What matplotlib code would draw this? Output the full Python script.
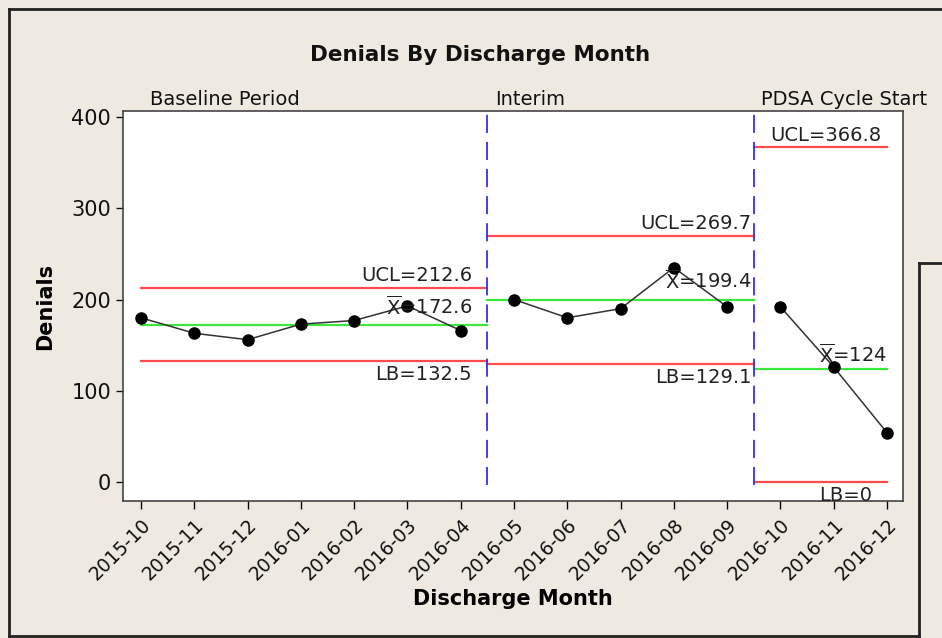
import matplotlib
matplotlib.use("Agg")
import matplotlib.pyplot as plt
from matplotlib import font_manager
from matplotlib.lines import Line2D

names = {f.name for f in font_manager.fontManager.ttflist}
fam = ['Liberation Sans Narrow', 'DejaVu Sans'] if 'Liberation Sans Narrow' in names else ['DejaVu Sans']
plt.rcParams['font.family'] = fam

months = ["2015-10", "2015-11", "2015-12", "2016-01", "2016-02", "2016-03", "2016-04",
          "2016-05", "2016-06", "2016-07", "2016-08", "2016-09",
          "2016-10", "2016-11", "2016-12"]
denials = [180, 163, 156, 173, 177, 193, 166,
           200, 180, 190, 235, 192,
           192, 126, 54]
stage_names = ["Baseline Period", "Interim", "PDSA Cycle Start"]
stage_start = [0, 7, 12]
stage_end = [6, 11, 14]
ucl = [212.6, 269.7, 366.8]
mean = [172.6, 199.4, 124]
lb = [132.5, 129.1, 0]

W, H = 942, 638
fig = plt.figure(figsize=(W / 100, H / 100), dpi=100)
fig.patch.set_facecolor('#EEEAE2')

def fx(px): return px / W
def fy(py): return 1 - py / H

ax = fig.add_axes([fx(123), fy(501), fx(903) - fx(123), fy(111) - fy(501)])
ax.set_facecolor('white')

x = list(range(len(months)))
ax.set_xlim(-0.338, 14.30)
ax.set_ylim(-20.8, 406.6)

red = '#FF4B4B'
green = '#3CE83C'
blue = '#3030F5'

for i in range(3):
    s, e = stage_start[i], stage_end[i]
    lo = s - 0.5 if i > 0 else s
    hi = e + 0.5 if i < 2 else e
    ax.plot([lo, hi], [ucl[i], ucl[i]], color=red, lw=1.6, zorder=2)
    ax.plot([lo, hi], [mean[i], mean[i]], color=green, lw=1.6, zorder=2)
    ax.plot([lo, hi], [lb[i], lb[i]], color=red, lw=1.6, zorder=2)
    ax.plot(x[s:e + 1], denials[s:e + 1], color='#333333', lw=1.1, marker='o',
            markersize=8, markerfacecolor='black', markeredgecolor='black', zorder=4)
    ax.text(s + 0.17 if i == 0 else s - 0.36, 1.006, stage_names[i], transform=ax.get_xaxis_transform(),
            ha='left', va='bottom', fontsize=14, color='#111111')

for b in [6.5, 11.5]:
    ax.axvline(b, ymin=0.04, ymax=1, color=blue, lw=1.3, dashes=(10, 5), zorder=3)

fs = 14
tc = '#222222'
# baseline labels
ax.text(6.21, ucl[0] + 3, "UCL=212.6", ha='right', va='bottom', fontsize=fs, color=tc, zorder=5)
ax.text(6.21, mean[0] + 6, r"$\overline{\mathrm{X}}$=172.6", ha='right', va='bottom', fontsize=fs, color=tc, zorder=5)
ax.text(6.21, lb[0] - 4, "LB=132.5", ha='right', va='top', fontsize=fs, color=tc, zorder=5)
# interim
ax.text(11.45, ucl[1] + 3, "UCL=269.7", ha='right', va='bottom', fontsize=fs, color=tc, zorder=5)
ax.text(11.45, mean[1] + 8, r"$\overline{\mathrm{X}}$=199.4", ha='right', va='bottom', fontsize=fs, color=tc, zorder=5)
ax.text(11.45, lb[1] - 4, "LB=129.1", ha='right', va='top', fontsize=fs, color=tc, zorder=5)
# PDSA
ax.text(11.8, ucl[2] + 3, "UCL=366.8", ha='left', va='bottom', fontsize=fs, color=tc, zorder=5)
ax.text(14.0, mean[2] + 3, r"$\overline{\mathrm{X}}$=124", ha='right', va='bottom', fontsize=fs, color=tc, zorder=5)
ax.text(13.72, lb[2] - 4, "LB=0", ha='right', va='top', fontsize=fs, color=tc, zorder=5)

ax.set_xticks(x)
ax.set_xticklabels(months, rotation=45, ha='right', rotation_mode='anchor', fontsize=13.5, color='#111111')
ax.set_yticks([0, 100, 200, 300, 400])
ax.tick_params(axis='y', labelsize=15, colors='#111111', length=5, width=1)
ax.tick_params(axis='x', length=6, width=1, pad=4)
for sp in ax.spines.values():
    sp.set_color('#444444')
    sp.set_linewidth(1.2)

ax.set_xlabel("Discharge Month", fontsize=15, fontweight='bold', labelpad=4)
ax.set_ylabel("Denials", fontsize=15, fontweight='bold', labelpad=12)
fig.text(fx(480), fy(55), "Denials By Discharge Month", ha='center', va='center',
         fontsize=15.5, fontweight='bold', color='#111111')

# outer frame lines
lc = '#222222'
fig.add_artist(Line2D([fx(9), fx(9)], [fy(9), fy(636)], color=lc, lw=2, transform=fig.transFigure))
fig.add_artist(Line2D([fx(9), fx(942)], [fy(9), fy(9)], color=lc, lw=2, transform=fig.transFigure))
fig.add_artist(Line2D([fx(9), fx(919)], [fy(636), fy(636)], color=lc, lw=2, transform=fig.transFigure))
fig.add_artist(Line2D([fx(919), fx(919)], [fy(263), fy(638)], color=lc, lw=2, transform=fig.transFigure))
fig.add_artist(Line2D([fx(919), fx(942)], [fy(263), fy(263)], color=lc, lw=2, transform=fig.transFigure))

fig.savefig("out.png", dpi=100, facecolor=fig.get_facecolor())
